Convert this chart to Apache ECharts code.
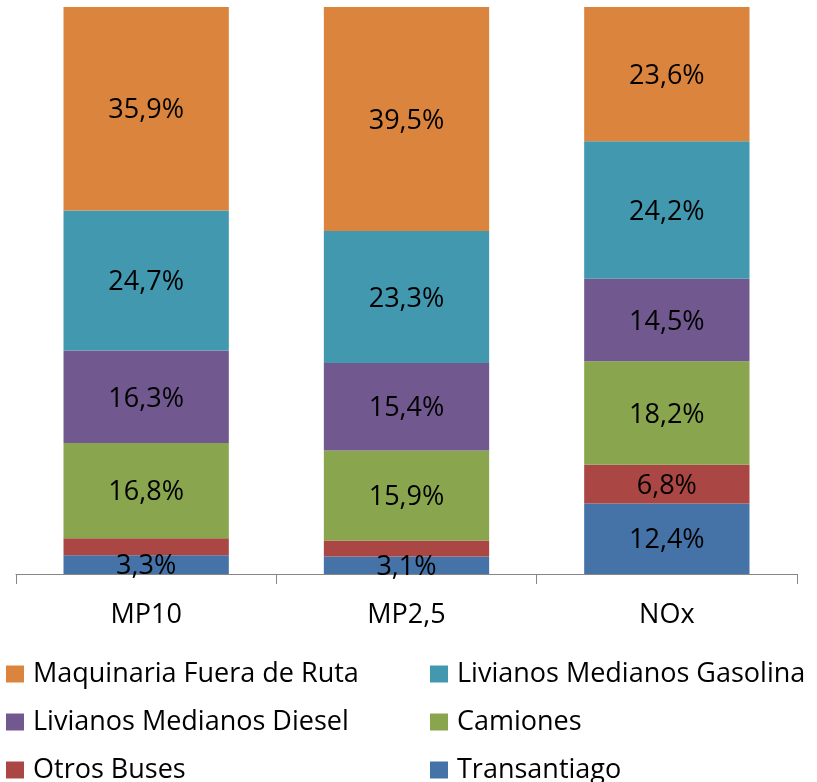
<!DOCTYPE html>
<html>
<head>
<meta charset="utf-8">
<script src="https://cdn.jsdelivr.net/npm/echarts@6/dist/echarts.min.js"></script>
<style>
  html, body { margin: 0; padding: 0; background: #fff; }
  #chart { width: 817px; height: 782px; }
</style>
</head>
<body>
<div id="chart"></div>
<script>
// categorias y porcentajes por fuente
var categories = ['MP10', 'MP2,5', 'NOx'];
var seriesNames = ['Transantiago', 'Otros Buses', 'Camiones', 'Livianos Medianos Diesel', 'Livianos Medianos Gasolina', 'Maquinaria Fuera de Ruta'];
var transantiago = [3.3, 3.1, 12.4];
var otrosBuses = [3.0, 2.8, 6.8];
var camiones = [16.8, 15.9, 18.2];
var livianosDiesel = [16.3, 15.4, 14.5];
var livianosGasolina = [24.7, 23.3, 24.2];
var maquinaria = [35.9, 39.5, 23.6];
// etiquetas que no se muestran (barras muy delgadas)
var hideLabel = [[false, false, false], [true, true, false], [false, false, false], [false, false, false], [false, false, false], [false, false, false]];

var colors = ['#4572A7', '#AA4643', '#89A54E', '#71588F', '#4198AF', '#DB843D'];
var values = [transantiago, otrosBuses, camiones, livianosDiesel, livianosGasolina, maquinaria];
var FONT = 'Open Sans';
var FS = 27;

// grafico 100% apilado: cada columna se normaliza a su total
var totals = categories.map(function (c, j) {
  var s = 0;
  values.forEach(function (arr) { s += arr[j]; });
  return s;
});

var chart = echarts.init(document.getElementById('chart'));

var series = values.map(function (arr, i) {
  return {
    name: seriesNames[i],
    type: 'bar',
    stack: 'total',
    barWidth: '63.5%',
    data: arr.map(function (v, j) { return { value: v / totals[j] * 100, raw: v }; }),
    itemStyle: { color: colors[i] },
    label: {
      show: true,
      position: 'inside',
      offset: [0, 2],
      color: '#000',
      fontFamily: FONT,
      fontSize: FS,
      formatter: function (p) {
        if (hideLabel[i][p.dataIndex]) return '';
        return p.data.raw.toFixed(1).replace('.', ',') + '%';
      }
    }
  };
});

var legendText = { color: '#000', fontFamily: FONT, fontSize: FS, lineHeight: 28, padding: [0, 0, 0, 4] };

var option = {
  animation: false,
  grid: { left: 16, right: 20, top: 7, bottom: 208, containLabel: false },
  xAxis: {
    type: 'category',
    data: categories,
    axisLine: { lineStyle: { color: '#868686', width: 1 } },
    axisTick: { show: true, length: 10, lineStyle: { color: '#868686' } },
    axisLabel: { color: '#000', fontFamily: FONT, fontSize: FS, margin: 28 }
  },
  yAxis: {
    type: 'value',
    min: 0,
    max: 100,
    show: false
  },
  legend: [
    {
      orient: 'vertical',
      left: 6,
      top: 660,
      height: 140,
      padding: 0,
      itemWidth: 18,
      itemHeight: 17,
      itemGap: 20,
      icon: 'rect',
      data: ['Maquinaria Fuera de Ruta', 'Livianos Medianos Diesel', 'Otros Buses'],
      textStyle: legendText
    },
    {
      orient: 'vertical',
      left: 430,
      top: 660,
      height: 140,
      padding: 0,
      itemWidth: 18,
      itemHeight: 17,
      itemGap: 20,
      icon: 'rect',
      data: ['Livianos Medianos Gasolina', 'Camiones', 'Transantiago'],
      textStyle: legendText
    }
  ],
  series: series
};

chart.setOption(option);
</script>
</body>
</html>
